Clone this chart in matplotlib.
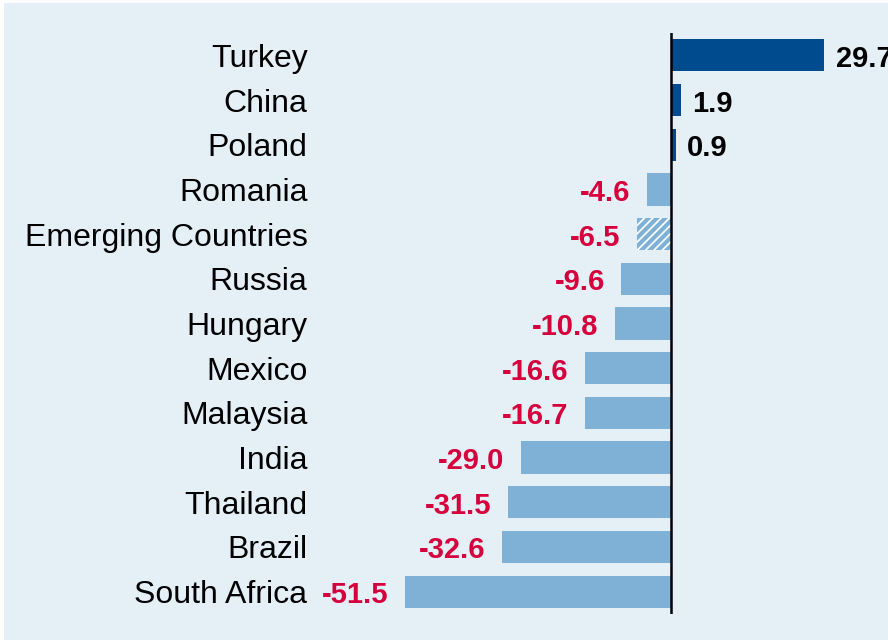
import matplotlib.pyplot as plt
from matplotlib.patches import Rectangle

# Daten
countries = ["Turkey", "China", "Poland", "Romania", "Emerging Countries", "Russia",
             "Hungary", "Mexico", "Malaysia", "India", "Thailand", "Brazil", "South Africa"]
values = [29.7, 1.9, 0.9, -4.6, -6.5, -9.6, -10.8, -16.6, -16.7, -29.0, -31.5, -32.6, -51.5]
aggregate = "Emerging Countries"

dark_blue = "#004B8D"
light_blue = "#7FB1D6"
red = "#D6003C"
bg = "#E4EFF6"

plt.rcParams['font.family'] = ['Liberation Sans', 'DejaVu Sans']
plt.rcParams['hatch.linewidth'] = 3.0

fig = plt.figure(figsize=(8.88, 6.4), dpi=100)
fig.patches.append(Rectangle((4 / 888, 0), 1, 637 / 640, transform=fig.transFigure,
                             facecolor=bg, edgecolor="none", zorder=-10))

ax = fig.add_axes([320 / 888, 26 / 640, 568 / 888, 581 / 640])
ax.set_facecolor("none")

y = list(range(len(countries)))
for i, (c, v) in enumerate(zip(countries, values)):
    if c == aggregate:
        ax.barh(i, v, height=0.72, color="white", edgecolor=light_blue, hatch="////",
                linewidth=0)
    else:
        ax.barh(i, v, height=0.72, color=dark_blue if v > 0 else light_blue, linewidth=0)
    if v > 0:
        ax.annotate(f"{v:.1f}", (v, i), xytext=(8, -2.5), textcoords="offset points",
                    ha="left", va="center", fontsize=21, fontweight="bold",
                    color="black", annotation_clip=False)
    else:
        ax.annotate(f"{v:.1f}", (v, i), xytext=(-12, -2.5), textcoords="offset points",
                    ha="right", va="center", fontsize=21, fontweight="bold",
                    color=red, annotation_clip=False)

ax.axvline(0, color="black", linewidth=1.8)
ax.set_xlim(-67.9, 42.0)
ax.set_ylim(12.5, -0.5)
ax.set_yticks(y)
ax.set_yticklabels(countries, fontsize=23)
ax.tick_params(axis="y", length=0, pad=9)
ax.set_xticks([])
for s in ax.spines.values():
    s.set_visible(False)

fig.savefig("out.png", dpi=100)
